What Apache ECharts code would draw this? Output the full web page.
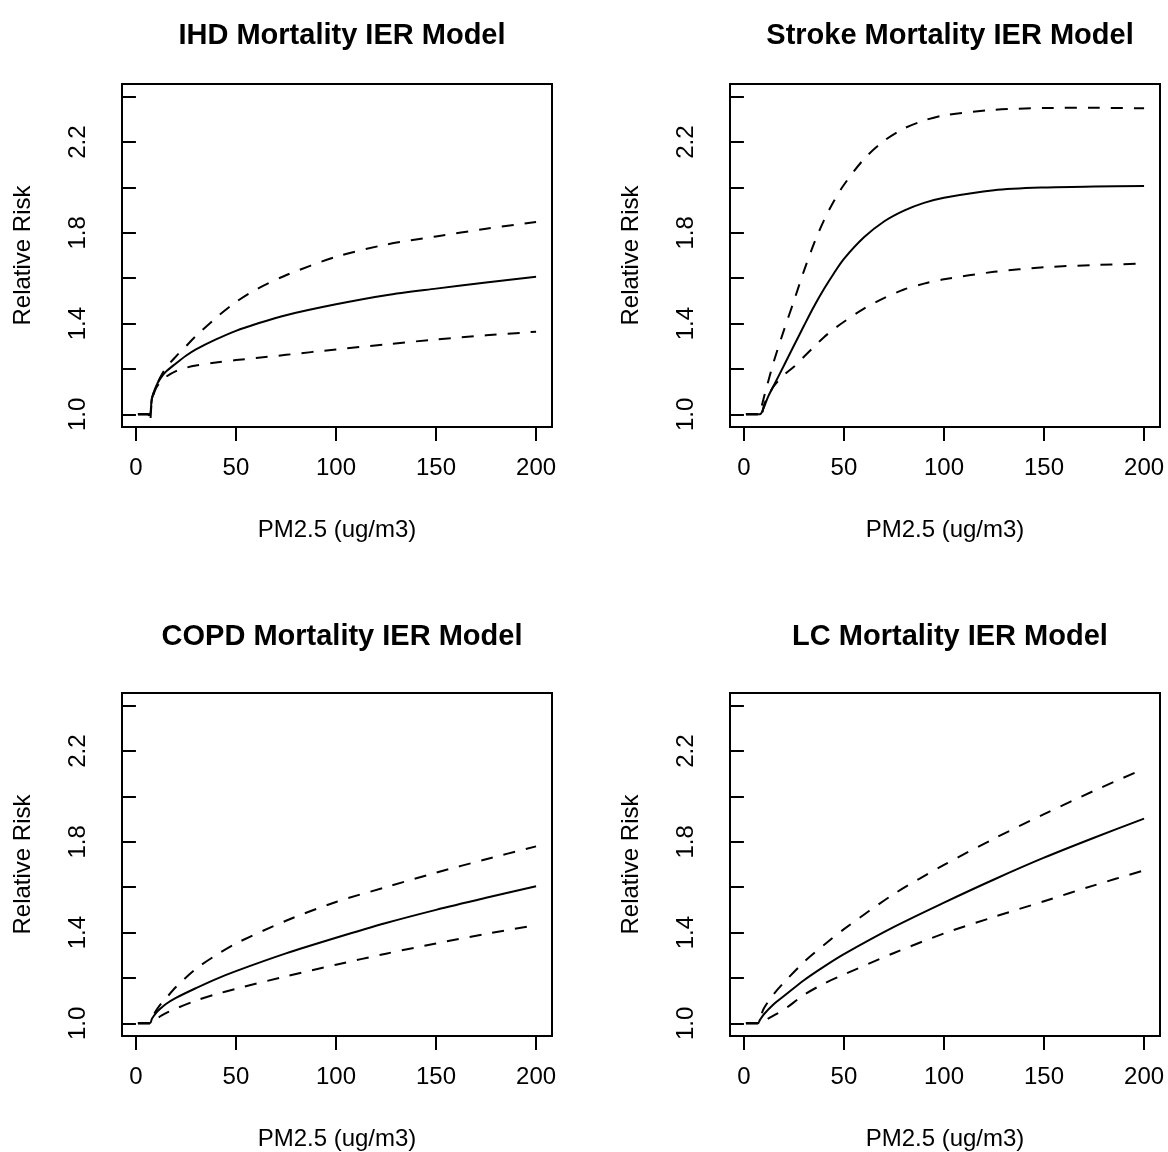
<!DOCTYPE html>
<html><head><meta charset="utf-8">
<script src="https://cdn.jsdelivr.net/npm/echarts@6/dist/echarts.min.js"></script>
<style>html,body{margin:0;padding:0;background:#fff}#c{width:1168px;height:1152px}</style>
</head><body><div id="c"></div>
<script>
// ---- data ----
const panelTitles = ["IHD Mortality IER Model", "Stroke Mortality IER Model", "COPD Mortality IER Model", "LC Mortality IER Model"];
const xTicks = [0, 50, 100, 150, 200];
const yTicks = [1.0, 1.2, 1.4, 1.6, 1.8, 2.0, 2.2, 2.4];
const yLabels = [1.0, 1.4, 1.8, 2.2];

const ihdX     = [1, 6, 7, 8, 10, 12, 15, 20, 25, 30, 40, 50, 60, 75, 100, 125, 150, 175, 200];
const ihdMean  = [1, 1, 1.0, 1.07, 1.122, 1.155, 1.188, 1.224, 1.258, 1.286, 1.330, 1.368, 1.398, 1.437, 1.485, 1.525, 1.554, 1.581, 1.606];
const ihdUpper = [1, 1, 1.0, 1.07, 1.12, 1.16, 1.205, 1.255, 1.30, 1.345, 1.425, 1.495, 1.55, 1.613, 1.694, 1.748, 1.784, 1.818, 1.848];
const ihdLower = [1, 1, 0.965, 1.06, 1.114, 1.14, 1.165, 1.19, 1.205, 1.215, 1.228, 1.239, 1.248, 1.262, 1.286, 1.308, 1.33, 1.348, 1.364];

const strokeX     = [1, 7, 8, 9, 10, 12, 15, 20, 25, 30, 35, 40, 45, 50, 60, 70, 80, 90, 100, 125, 150, 175, 200];
const strokeMean  = [1, 1, 1.0, 1.01, 1.03, 1.076, 1.128, 1.215, 1.303, 1.39, 1.475, 1.552, 1.622, 1.685, 1.78, 1.85, 1.898, 1.932, 1.955, 1.988, 2.0, 2.004, 2.006];
const strokeUpper = [1, 1, 1.0, 1.04, 1.075, 1.14, 1.235, 1.371, 1.50, 1.632, 1.752, 1.855, 1.94, 2.012, 2.125, 2.205, 2.26, 2.295, 2.318, 2.342, 2.35, 2.351, 2.349];
const strokeLower = [1, 1, 0.983, 1.0, 1.04, 1.08, 1.125, 1.173, 1.21, 1.254, 1.297, 1.34, 1.376, 1.408, 1.466, 1.512, 1.55, 1.576, 1.595, 1.628, 1.648, 1.658, 1.664];

const copdX     = [1, 7, 8, 10, 12, 15, 20, 30, 40, 50, 75, 100, 125, 150, 175, 200];
const copdMean  = [1, 1, 1.02, 1.045, 1.063, 1.085, 1.112, 1.155, 1.195, 1.230, 1.308, 1.377, 1.442, 1.500, 1.553, 1.604];
const copdUpper = [1, 1, 1.025, 1.055, 1.08, 1.11, 1.16, 1.24, 1.30, 1.352, 1.452, 1.535, 1.60, 1.664, 1.723, 1.78];
const copdLower = [1, 1, 1.0, 1.015, 1.03, 1.045, 1.065, 1.10, 1.128, 1.152, 1.207, 1.258, 1.307, 1.352, 1.394, 1.433];

const lcX     = [1, 7, 8, 10, 15, 20, 30, 40, 50, 75, 100, 125, 150, 175, 200];
const lcMean  = [1, 1, 1.015, 1.04, 1.085, 1.12, 1.19, 1.25, 1.305, 1.425, 1.532, 1.634, 1.730, 1.818, 1.902];
const lcUpper = [1, 1, 1.02, 1.066, 1.13, 1.18, 1.27, 1.345, 1.415, 1.57, 1.698, 1.814, 1.922, 2.025, 2.122];
const lcLower = [1, 1, 1.0, 1.01, 1.035, 1.06, 1.125, 1.175, 1.215, 1.31, 1.396, 1.469, 1.538, 1.608, 1.674];

// ---- layout ----
const FONT = "'Liberation Sans', Arial, Helvetica, sans-serif";
const grids = [
  {left: 122, top: 84, width: 430, height: 343},
  {left: 730, top: 84, width: 430, height: 343},
  {left: 122, top: 693, width: 430, height: 343},
  {left: 730, top: 693, width: 430, height: 343}
];
const panels = [
  [ihdX, ihdMean, ihdUpper, ihdLower],
  [strokeX, strokeMean, strokeUpper, strokeLower],
  [copdX, copdMean, copdUpper, copdLower],
  [lcX, lcMean, lcUpper, lcLower]
];
const zip = (xs, ys) => xs.map((x, i) => [x, ys[i]]);

const option = {
  backgroundColor: '#fff',
  animation: false,
  title: grids.map((g, i) => ({
    text: panelTitles[i],
    left: g.left + g.width / 2,
    top: i < 2 ? 16 : 617,
    textAlign: 'center',
    textStyle: {fontFamily: FONT, fontSize: 29, fontWeight: 'bold', color: '#000'}
  })),
  grid: grids.map(g => Object.assign({show: true, borderColor: '#000', borderWidth: 2, backgroundColor: 'transparent'}, g)),
  xAxis: grids.map((g, i) => ({
    gridIndex: i, type: 'value', min: -6.96, max: 207.96,
    axisLine: {show: false}, splitLine: {show: false},
    axisTick: {show: true, inside: false, length: 14, lineStyle: {color: '#000', width: 2}, customValues: xTicks},
    axisLabel: {customValues: xTicks, fontSize: 24, color: '#000', fontFamily: FONT, margin: 29},
    name: 'PM2.5 (ug/m3)', nameLocation: 'middle', nameGap: 91,
    nameTextStyle: {fontSize: 24, color: '#000', fontFamily: FONT}
  })),
  yAxis: grids.map((g, i) => ({
    gridIndex: i, type: 'value', min: 0.944, max: 2.456,
    axisLine: {show: false}, splitLine: {show: false},
    axisTick: {show: true, inside: false, length: 14, lineStyle: {color: '#000', width: 2}, customValues: yTicks},
    axisLabel: {customValues: yLabels, rotate: 90, fontSize: 24, color: '#000', fontFamily: FONT, margin: 32,
      formatter: v => Number(v).toFixed(1)},
    name: 'Relative Risk', nameLocation: 'middle', nameGap: 87, nameRotate: 90,
    nameTextStyle: {fontSize: 24, color: '#000', fontFamily: FONT}
  })),
  series: []
};
panels.forEach((p, i) => {
  const [xs, m, u, l] = p;
  const base = {type: 'line', xAxisIndex: i, yAxisIndex: i, symbol: 'none', smooth: 0.3, silent: true, clip: true};
  option.series.push(Object.assign({}, base, {data: zip(xs, u), lineStyle: {color: '#000', width: 2, type: [12, 11]}}));
  option.series.push(Object.assign({}, base, {data: zip(xs, l), lineStyle: {color: '#000', width: 2, type: [12, 11]}}));
  option.series.push(Object.assign({}, base, {data: zip(xs, m), lineStyle: {color: '#000', width: 2, type: 'solid'}}));
});
const chart = echarts.init(document.getElementById('c'), null, {renderer: 'canvas'});
chart.setOption(option);
</script></body></html>
